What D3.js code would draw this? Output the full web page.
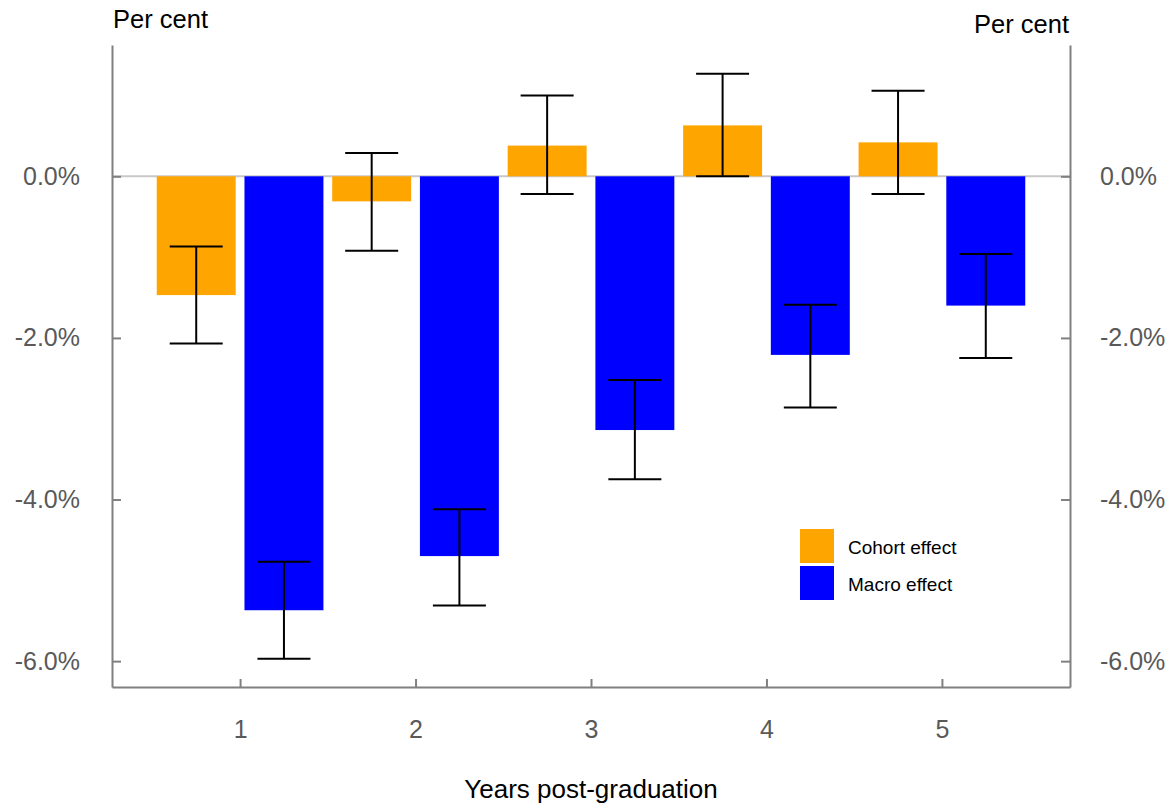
<!DOCTYPE html>
<html>
<head>
<meta charset="utf-8">
<script src="https://cdn.jsdelivr.net/npm/d3@7"></script>
<style>
  body { margin: 0; background: #fff; }
  text { font-family: "Liberation Sans", Arial, sans-serif; }
</style>
</head>
<body>
<div id="chart"></div>
<script>
const years = [1, 2, 3, 4, 5];
const series = ["Cohort effect", "Macro effect"];
const colors = ["#FFA500", "#0000FF"];
// point estimates, per cent
const cohort = [-1.47, -0.31, 0.38, 0.63, 0.42];
const macro = [-5.37, -4.70, -3.14, -2.21, -1.60];
// error bar bounds
const cohort_hi = [-0.87, 0.29, 1.00, 1.27, 1.06];
const cohort_lo = [-2.07, -0.92, -0.22, 0.0, -0.22];
const macro_hi = [-4.77, -4.12, -2.52, -1.59, -0.96];
const macro_lo = [-5.97, -5.31, -3.75, -2.86, -2.25];
const yTicks = [0, -2, -4, -6];

const W = 1169, H = 803;
const plotL = 112, plotR = 1070, plotT = 45, plotB = 687;

const svg = d3.select("#chart").append("svg")
  .attr("width", W)
  .attr("height", H);

const x = d3.scalePoint().domain(years).range([plotL, plotR]).padding(0.73);
const step = x.step();
const xs = d3.scaleBand().domain(series).range([-step / 2, step / 2])
  .paddingInner(0.1).paddingOuter(0.05);
const y = d3.scaleLinear().domain([-6.32, 1.625]).range([plotB, plotT]);

const rows = [];
years.forEach((yr, i) => {
  rows.push({ yr, s: series[0], c: colors[0], v: cohort[i], hi: cohort_hi[i], lo: cohort_lo[i] });
  rows.push({ yr, s: series[1], c: colors[1], v: macro[i], hi: macro_hi[i], lo: macro_lo[i] });
});

// zero line
svg.append("line")
  .attr("x1", plotL).attr("x2", plotR)
  .attr("y1", y(0)).attr("y2", y(0))
  .attr("stroke", "#c8c8c8").attr("stroke-width", 2);

// bars
svg.append("g").selectAll("rect")
  .data(rows)
  .join("rect")
  .attr("x", d => x(d.yr) + xs(d.s))
  .attr("width", xs.bandwidth())
  .attr("y", d => y(Math.max(0, d.v)))
  .attr("height", d => Math.abs(y(d.v) - y(0)))
  .attr("fill", d => d.c);

// error bars
const capW = 53;
const eb = svg.append("g").attr("stroke", "#000").attr("stroke-width", 2);
rows.forEach(d => {
  const cx = x(d.yr) + xs(d.s) + xs.bandwidth() / 2;
  eb.append("line").attr("x1", cx).attr("x2", cx).attr("y1", y(d.hi)).attr("y2", y(d.lo));
  eb.append("line").attr("x1", cx - capW / 2).attr("x2", cx + capW / 2).attr("y1", y(d.hi)).attr("y2", y(d.hi));
  eb.append("line").attr("x1", cx - capW / 2).attr("x2", cx + capW / 2).attr("y1", y(d.lo)).attr("y2", y(d.lo));
});

// axes
const fmt = d => (d < 0 ? "-" : "") + Math.abs(d).toFixed(1) + "%";
const styleAxis = g => {
  g.select(".domain").attr("stroke", "#808080").attr("stroke-width", 2);
  g.selectAll(".tick line").attr("stroke", "#808080").attr("stroke-width", 2);
  g.selectAll(".tick text").attr("fill", "#595959").attr("font-size", "25px")
    .attr("font-family", "Liberation Sans, Arial, sans-serif");
};

svg.append("g")
  .attr("transform", `translate(${plotL},0)`)
  .call(d3.axisRight(y).tickValues(yTicks).tickFormat(fmt).tickSize(9).tickSizeOuter(0))
  .call(styleAxis)
  .call(g => g.selectAll(".tick text").attr("x", -32).attr("text-anchor", "end"));

svg.append("g")
  .attr("transform", `translate(${plotR},0)`)
  .call(d3.axisLeft(y).tickValues(yTicks).tickFormat(fmt).tickSize(9).tickSizeOuter(0))
  .call(styleAxis)
  .call(g => g.selectAll(".tick text").attr("x", 30).attr("text-anchor", "start"));

svg.append("g")
  .attr("transform", `translate(0,${plotB})`)
  .call(d3.axisTop(x).tickSize(8).tickSizeOuter(0))
  .call(styleAxis)
  .call(g => g.selectAll(".tick text").attr("y", 51).attr("dy", 0));

// titles
svg.append("text").attr("x", 113).attr("y", 28).attr("font-size", "25.5px").attr("fill", "#000").text("Per cent");
svg.append("text").attr("x", 1069).attr("y", 33).attr("font-size", "25.5px").attr("fill", "#000")
  .attr("text-anchor", "end").text("Per cent");
svg.append("text").attr("x", 591).attr("y", 798).attr("font-size", "26px").attr("fill", "#000")
  .attr("text-anchor", "middle").text("Years post-graduation");

// legend
const lg = svg.append("g").attr("transform", "translate(800,529)");
series.forEach((s, i) => {
  lg.append("rect").attr("x", 0).attr("y", i * 37).attr("width", 34).attr("height", 34).attr("fill", colors[i]);
  lg.append("text").attr("x", 48).attr("y", i * 37 + 25).attr("font-size", "19px").attr("fill", "#000").text(s);
});
</script>
</body>
</html>
